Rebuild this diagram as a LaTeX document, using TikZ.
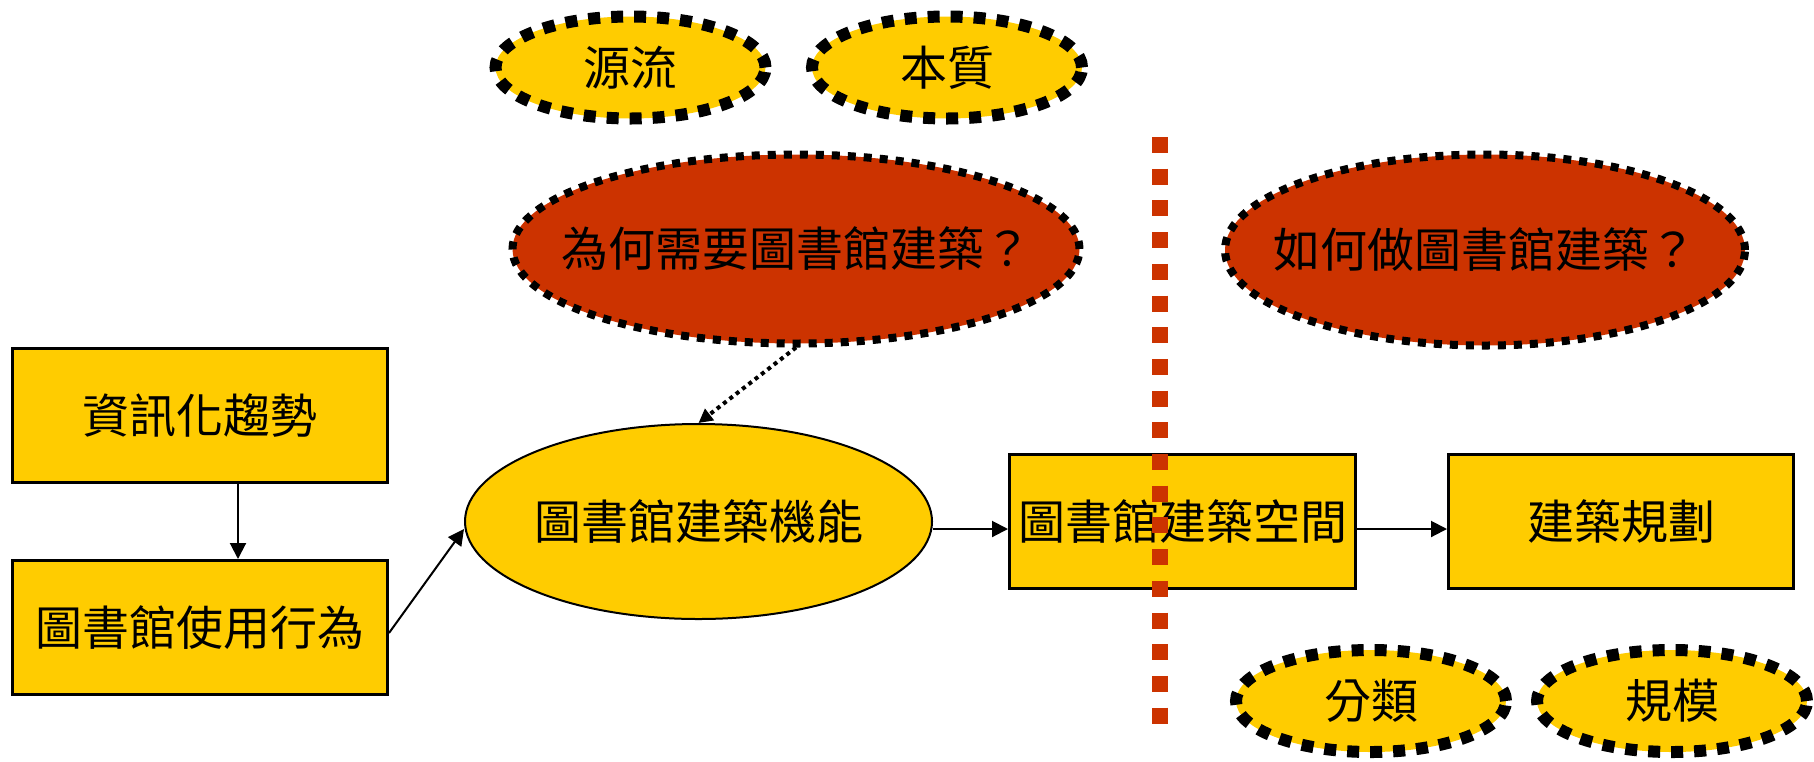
\documentclass[tikz,border=0pt]{standalone}
\usepackage{fontspec}
\setmainfont{Noto Sans CJK TC}
\usetikzlibrary{shapes.geometric,arrows.meta}
\definecolor{gold}{HTML}{FFCC00}
\definecolor{rust}{HTML}{CC3300}
\tikzset{
  txt/.style={font=\fontsize{23.5}{28}\selectfont},
  boxnode/.style={draw=black, line width=1.5pt, fill=gold, inner sep=0pt,
    minimum height=67pt, txt},
  tag/.style={ellipse, draw=black, fill=gold, line width=6pt,
    dash pattern=on 6pt off 5.5pt, inner sep=0pt,
    minimum width=135pt, minimum height=51pt},
  ques/.style={ellipse, draw=black, fill=rust, line width=4pt,
    dash pattern=on 4pt off 4pt, inner sep=0pt, minimum height=94.5pt},
  fnell/.style={ellipse, draw=black, fill=gold, line width=1pt,
    inner sep=0pt, minimum width=233.5pt, minimum height=97.5pt},
  arr/.style={line width=1pt, -{Triangle[length=8pt,width=8pt]}},
  darr/.style={line width=2pt, dash pattern=on 2pt off 2pt,
    -{Triangle[length=7pt,width=7pt]}},
  divider/.style={draw=rust, line width=8pt, dash pattern=on 8pt off 7.85pt},
  lab/.style={label={[txt]center:#1}}
}
\begin{document}
\begin{tikzpicture}[x=0.5pt,y=-0.5pt]
\useasboundingbox (0,0) rectangle (1814,761);
% top tags
\node[tag, lab=源流] (src) at (630.5,67.5) {};
\node[tag, lab=本質] (ess) at (947,67.5) {};
% question ellipses
\node[ques, minimum width=283.5pt, lab=為何需要圖書館建築？] (why) at (796,249) {};
\node[ques, minimum width=260pt, minimum height=95.5pt, lab=如何做圖書館建築？] (how) at (1485,250) {};
% boxes
\node[boxnode, minimum width=187.5pt] (b1) at (200,415.5) {資訊化趨勢};
\node[boxnode, minimum width=187.5pt] (b2) at (200,627.5) {圖書館使用行為};
\node[fnell, lab=圖書館建築機能] (fn) at (698.5,521.5) {};
\node[boxnode, minimum width=173pt] (sp) at (1182.5,521.5) {圖書館建築空間};
\node[boxnode, minimum width=172.5pt] (pl) at (1621,521.5) {建築規劃};
% bottom tags
\node[tag, lab=分類] (cls) at (1371,701) {};
\node[tag, lab=規模] (scl) at (1672,701) {};
% connectors
\draw[arr] ([xshift=19pt]b1.south) -- ([xshift=19pt]b2.north);
\draw[arr] ([yshift=-2.75pt]b2.east) -- ([yshift=-3.75pt]fn.west);
\draw[arr] ([yshift=-3.75pt]fn.east) -- ([yshift=-3.75pt]fn.east -| sp.west);
\draw[arr] ([yshift=-3.75pt]sp.east) -- ([yshift=-3.75pt]pl.west);
\draw[darr] (why.south) -- (fn.north);
% divider
\coordinate (dtop) at (1160,137);
\coordinate (dbot) at (1160,727);
\draw[divider] (dtop) -- (dbot);
\end{tikzpicture}
\end{document}
